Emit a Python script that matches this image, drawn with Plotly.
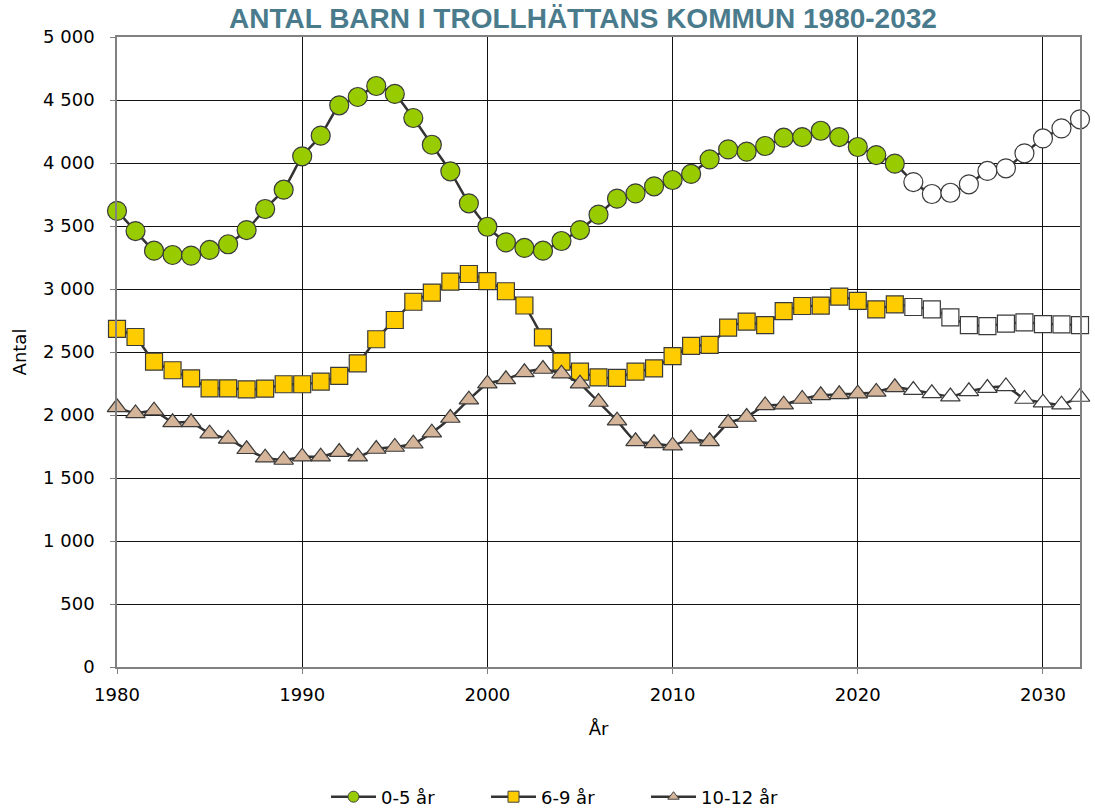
import plotly.graph_objects as go

years = list(range(1980, 2033))
last_actual = 2022

age_0_5 = [3620, 3460, 3304, 3270, 3265, 3310, 3355, 3468, 3635, 3788,
           4053, 4217, 4458, 4524, 4611, 4548, 4357, 4145, 3934, 3680,
           3494, 3370, 3326, 3304, 3381, 3468, 3590, 3717, 3759, 3815,
           3865, 3913, 4029, 4108, 4090, 4135, 4201, 4206, 4256, 4206,
           4127, 4063, 3995, 3849, 3754, 3764, 3831, 3937, 3958, 4077,
           4195, 4275, 4347]

age_6_9 = [2683, 2619, 2423, 2355, 2291, 2212, 2212, 2204, 2209, 2244,
           2244, 2265, 2310, 2410, 2601, 2754, 2899, 2971, 3058, 3119,
           3063, 2982, 2869, 2616, 2423, 2344, 2299, 2294, 2344, 2370,
           2468, 2548, 2556, 2693, 2741, 2714, 2825, 2865, 2868, 2939,
           2905, 2839, 2878, 2857, 2839, 2775, 2714, 2706, 2725, 2735,
           2722, 2720, 2714]

age_10_12 = [2061, 2013, 2034, 1942, 1942, 1852, 1810, 1728, 1661, 1643,
             1669, 1669, 1706, 1669, 1730, 1746, 1772, 1860, 1976, 2122,
             2249, 2283, 2339, 2365, 2328, 2249, 2103, 1955, 1791, 1775,
             1757, 1812, 1791, 1936, 1984, 2076, 2082, 2127, 2156, 2164,
             2169, 2183, 2220, 2198, 2172, 2146, 2188, 2214, 2227, 2127,
             2098, 2082, 2143]

series_names = ["0-5 år", "6-9 år", "10-12 år"]
series_colors = ["#99CC00", "#FFCC00", "#D4B59A"]
series_symbols = ["circle", "square", "triangle-up"]
series_sizes = [19, 17, 17]
legend_sizes = [11, 11, 10]

x_ticks = [1980, 1990, 2000, 2010, 2020, 2030]
y_ticks = list(range(0, 5001, 500))
y_ticktext = ["0", "500", "1 000", "1 500", "2 000", "2 500", "3 000",
              "3 500", "4 000", "4 500", "5 000"]

FONT = "DejaVu Sans, Verdana, sans-serif"

fig = go.Figure()
for name, vals, col, sym, sz, lsz in zip(series_names, [age_0_5, age_6_9, age_10_12],
                                         series_colors, series_symbols,
                                         series_sizes, legend_sizes):
    fills = [col if y <= last_actual else "#FFFFFF" for y in years]
    fig.add_trace(go.Scatter(
        x=years, y=vals, mode="lines+markers", showlegend=False,
        line=dict(color="#333333", width=2.5, shape="spline", smoothing=0.5),
        marker=dict(symbol=sym, size=sz, color=fills,
                    line=dict(color="#3A3A3A", width=1.2)),
        cliponaxis=False, name=name))
    fig.add_trace(go.Scatter(
        x=[None], y=[None], mode="lines+markers", name=name,
        line=dict(color="#333333", width=2.5),
        marker=dict(symbol=sym, size=lsz, color=col,
                    line=dict(color="#404040", width=1))))

fig.update_layout(
    width=1095, height=811,
    paper_bgcolor="white", plot_bgcolor="white",
    margin=dict(l=117, r=15, t=37, b=144),
    font=dict(family=FONT, size=18, color="#000000"),
    title=dict(text="<b>ANTAL BARN I TROLLHÄTTANS KOMMUN 1980-2032</b>",
               x=583 / 1095, xanchor="center",
               y=1 - 18 / 811, yanchor="middle",
               font=dict(family="Liberation Sans, Arial, sans-serif",
                         size=28, color="#4A7B8C")),
    legend=dict(orientation="h", xref="container", yref="container",
                x=566 / 1095, xanchor="center",
                y=1 - 797 / 811, yanchor="middle",
                font=dict(family=FONT, size=18), itemwidth=45,
                entrywidth=100, entrywidthmode="pixels",
                traceorder="normal"),
    showlegend=True,
)
fig.update_xaxes(
    range=[1980, 2032], tickvals=x_ticks, ticktext=[str(t) for t in x_ticks],
    showgrid=True, gridcolor="#111111", gridwidth=1,
    showline=True, linecolor="#808080", linewidth=1.5, mirror=True,
    ticks="outside", ticklen=5, tickcolor="#808080", ticklabelstandoff=6,
    title=dict(text="År", font=dict(family=FONT, size=18), standoff=18),
    zeroline=False, automargin=False)
fig.update_yaxes(
    range=[0, 5000], tickvals=y_ticks, ticktext=y_ticktext,
    showgrid=True, gridcolor="#111111", gridwidth=1,
    showline=True, linecolor="#808080", linewidth=1.5, mirror=True,
    ticks="outside", ticklen=5, tickcolor="#808080", ticklabelstandoff=12,
    title=dict(text="Antal", font=dict(family=FONT, size=18), standoff=12),
    zeroline=False, automargin=False)

# remove the default 8px page margin so the figure fills the window exactly
fig.write_html("out.html", config={"displayModeBar": False},
               post_script="document.body.style.margin='0';")
